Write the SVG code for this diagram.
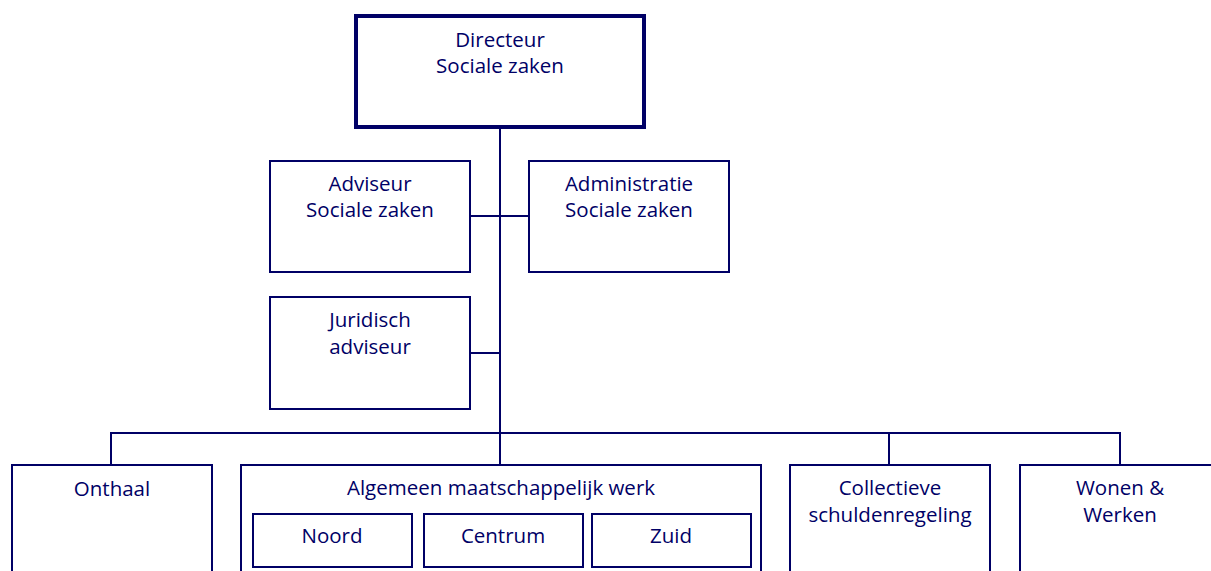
<svg xmlns="http://www.w3.org/2000/svg" width="1211" height="571" viewBox="0 0 1211 571">
<style>
.box{fill:#fff;stroke:#000066;stroke-width:2}
.main{fill:#fff;stroke:#000066;stroke-width:4}
.t{font-family:"Open Sans","DejaVu Sans",sans-serif;font-size:20.5px;fill:#000066;text-anchor:middle}
.c{fill:none;stroke:#000066;stroke-width:2}
</style>
<rect width="1211" height="571" fill="#fff"/>
<g id="connectors">
<line class="c" x1="500" y1="127" x2="500" y2="433"/>
<line class="c" x1="470" y1="216" x2="529" y2="216"/>
<line class="c" x1="470" y1="353" x2="500" y2="353"/>
<polyline class="c" points="111,465 111,433 1120,433 1120,465"/>
<line class="c" x1="500" y1="433" x2="500" y2="465"/>
<line class="c" x1="889" y1="433" x2="889" y2="465"/>
</g>
<g id="directeur">
<rect class="main" x="356" y="16" width="288" height="111"/>
<text class="t" x="500" y="47">Directeur</text>
<text class="t" x="500" y="73">Sociale zaken</text>
</g>
<g id="adviseur">
<rect class="box" x="270" y="161" width="200" height="111"/>
<text class="t" x="370" y="191">Adviseur</text>
<text class="t" x="370" y="217">Sociale zaken</text>
</g>
<g id="administratie">
<rect class="box" x="529" y="161" width="200" height="111"/>
<text class="t" x="629" y="191">Administratie</text>
<text class="t" x="629" y="217">Sociale zaken</text>
</g>
<g id="juridisch">
<rect class="box" x="270" y="297" width="200" height="112"/>
<text class="t" x="370" y="327">Juridisch</text>
<text class="t" x="370" y="354">adviseur</text>
</g>
<g id="onthaal">
<rect class="box" x="12" y="465" width="200" height="120"/>
<text class="t" x="112" y="496">Onthaal</text>
</g>
<g id="amw">
<rect class="box" x="241" y="465" width="520" height="120"/>
<text class="t" x="501" y="495">Algemeen maatschappelijk werk</text>
<g id="noord">
<rect class="box" x="253" y="514" width="159" height="53"/>
<text class="t" x="332" y="543">Noord</text>
</g>
<g id="centrum">
<rect class="box" x="424" y="514" width="159" height="53"/>
<text class="t" x="503" y="543">Centrum</text>
</g>
<g id="zuid">
<rect class="box" x="592" y="514" width="159" height="53"/>
<text class="t" x="671" y="543">Zuid</text>
</g>
</g>
<g id="collectieve">
<rect class="box" x="790" y="465" width="200" height="120"/>
<text class="t" x="890" y="495">Collectieve</text>
<text class="t" x="890" y="522">schuldenregeling</text>
</g>
<g id="wonen">
<rect class="box" x="1020" y="465" width="200" height="120"/>
<text class="t" x="1120" y="495">Wonen &amp;</text>
<text class="t" x="1120" y="522">Werken</text>
</g>
</svg>
